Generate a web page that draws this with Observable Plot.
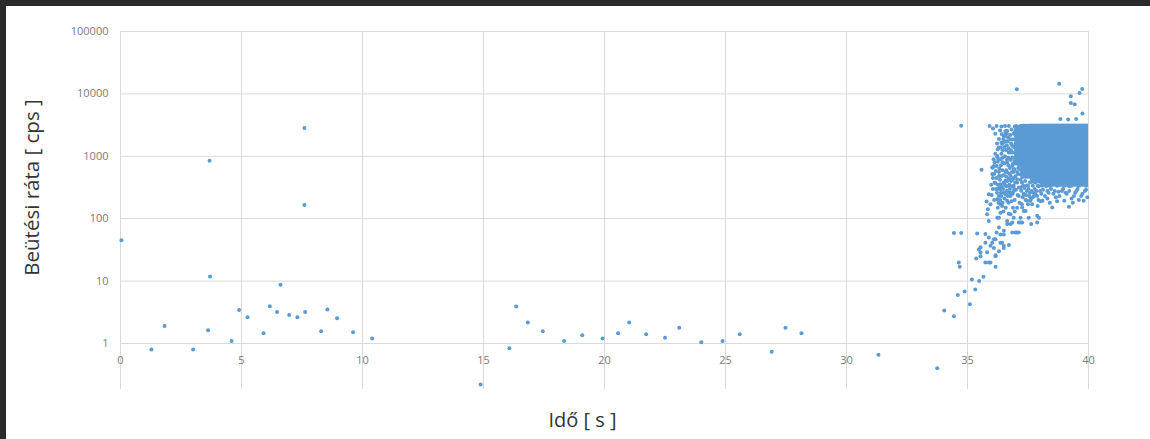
<!DOCTYPE html>
<html><head><meta charset="utf-8">
<script src="https://cdn.jsdelivr.net/npm/d3@7"></script>
<script src="https://cdn.jsdelivr.net/npm/@observablehq/plot@0.6"></script>
<style>
html,body{margin:0;padding:0;background:#fff;width:1150px;height:439px;overflow:hidden;position:relative}
#chart{position:absolute;left:0;top:0}
.frame-top{position:absolute;left:0;top:0;width:1150px;height:6px;background:#2b2b2b}
.frame-left{position:absolute;left:0;top:0;width:6px;height:439px;background:#2b2b2b}
</style></head><body>
<div id="chart"></div>
<div class="frame-top"></div><div class="frame-left"></div>
<script>
// Tick values
const xTicks = [0, 5, 10, 15, 20, 25, 30, 35, 40];
const yTicks = [1, 10, 100, 1000, 10000, 100000];
const xTitle = "Idő [ s ]";
const yTitle = "Beütési ráta [ cps ]";

// [time s, rate cps] — sparse early points
const earlyPoints = [
  [0.04,45],[1.28,0.8],[1.82,1.9],[3.0,0.8],[3.62,1.63],[3.7,11.8],[3.68,846],[4.59,1.1],
  [4.9,3.45],[5.25,2.64],[5.91,1.46],[6.17,3.96],[6.47,3.2],[6.61,8.7],[6.97,2.87],[7.31,2.64],
  [7.63,3.2],[7.6,2840],[7.6,166],[8.29,1.57],[8.55,3.5],[8.95,2.54],[9.61,1.52],[10.4,1.2],
  [14.88,0.22],[16.07,0.84],[16.35,3.9],[16.83,2.16],[17.45,1.57],[18.33,1.1],[19.08,1.36],
  [19.92,1.2],[20.56,1.46],[21.02,2.16],[21.72,1.41],[22.5,1.24],[23.09,1.78],[24.0,1.05],
  [24.88,1.1],[25.59,1.41],[26.91,0.74],[27.48,1.78],[28.14,1.46],[31.32,0.66],[33.75,0.4]
];

// rising tail before the burst
const tailPoints = [
  [34.04,3.37],[34.44,2.74],[34.44,59],[34.74,59],[34.64,19.8],[34.68,16.9],[34.6,6.0],[34.88,6.8],
  [35.1,4.27],[34.74,3100],[35.18,10.6],[35.32,7.3],[35.48,10],[35.66,11.7],[35.36,23],[35.54,28.6],
  [35.4,58],[35.74,57],[35.58,607],
  [35.74,19.8],[35.88,19.8],[35.95,19.8],[36.16,16.9],[35.54,35],[35.74,41],[35.95,37],[36.02,41],
  [36.16,26],[36.3,30],[36.09,34],[35.88,50],[36.16,47],[36.43,41],[36.5,37],[36.71,38],[36.36,56],
  [36.5,64],[37.05,60],[35.88,92],[35.81,118],[36.23,104],[36.3,72],[36.64,82],[36.85,87],[37.19,87],
  [37.88,87],[38.5,151],[39.19,155],[36.3,232],[36.36,171],[37.33,133],[37.53,104],[37.88,111],[37.19,104],
  [35.79,188],[35.84,142],[35.88,247],[36.2,60],[36.09,47],[36.36,41],[36.5,56],[36.3,104],[36.36,125],
  [36.43,160],[36.23,205],[36.33,315],[36.57,247],[36.64,92],[36.78,82],[36.85,60],[36.98,60],[37.12,60],
  [36.78,118],[36.91,104],[37.12,87],[37.26,87],[37.63,82],[37.95,104],[36.5,34],[35.81,29],[35.54,25],
  [36.16,25],[35.47,32],[36.64,193],[36.78,232],[36.91,279],[37.05,150],[37.26,151],[37.4,133],[37.47,193],
  [37.67,171],[37.81,247],[37.33,247],[37.12,315],[36.71,336]
];

// main cloud fringe (left of the dense block and beneath it)
const cloudPoints = [
  [36.09,700],[36.23,1015],[36.36,1378],[36.5,1660],[36.57,2120],[36.64,2550],[36.41,485],[36.36,357],
  [36.23,297],[36.64,792],[36.71,1146],[36.78,1880],[36.85,1470],[36.78,485],[36.57,404],[36.91,336],
  [36.91,621],[36.85,953],[37.05,2720],[37.12,1880],[37.05,1300],[37.12,899],[37.05,430],[37.19,315],
  [36.02,659],[36.25,1300],[36.36,899],[36.43,1570],[36.5,2120],[36.57,2550],[36.3,485],[36.5,379],
  [36.36,297],[36.64,548],[36.71,262],[36.78,1146],[36.85,700],[36.98,1570],[37.05,379],[37.12,1015],
  [37.19,516],[37.12,232],[36.23,970],[36.05,659],[36.3,1378],[36.4,1660],[36.57,2400],
  [36.9,2300],[37.0,1900],[37.1,2500],[37.2,2000],[37.3,1700],[37.25,1250],[37.3,900],[37.2,800],
  [37.28,620],[37.1,650],[37.0,1100],[36.95,850],[36.9,450],[37.2,420],[37.3,340],[37.05,560],
  [36.75,650],[36.7,950],[36.6,1250],[36.55,1000],[36.45,800],[36.8,1600],[36.68,2000],[36.4,1100],
  [36.6,600],[36.5,500],
  [36.35,2600],[36.42,2250],[36.48,1900],[36.55,1750],[36.62,1500],[36.7,1350],[36.76,2200],[36.82,2700],
  [36.88,1850],[36.93,1400],[36.97,2500],[37.03,2050],[37.08,1650],[37.14,1400],[37.17,2200],[37.09,2900],
  [36.95,3000],[36.87,1150],[36.8,1250],[36.66,1750],[36.45,1250],[36.52,1400],[36.62,2300],
  [36.25,820],[36.32,640],[36.38,720],[36.46,950],[36.53,770],[36.58,560],[36.63,880],[36.69,720],
  [36.74,520],[36.79,870],[36.84,560],[36.88,760],[36.94,620],[36.99,950],[37.04,840],[37.08,520],
  [37.14,720],[37.17,610],[36.98,480],[36.86,420],[36.72,440],[36.6,470],[36.44,600],[36.17,580],
  [36.12,800],[36.2,450],
  [36.15,370],[36.22,260],[36.28,180],[36.4,230],[36.47,300],[36.53,210],[36.6,330],[36.67,230],
  [36.75,300],[36.82,190],[36.87,250],[36.95,200],[37.0,290],[37.07,240],[37.15,180],[37.22,280],
  [37.28,220],[37.35,310],[37.42,240],[37.5,170],[37.58,260],[37.7,220],[37.78,300],[37.93,200],
  [38.05,250],[38.3,210],[38.45,300],[38.55,250],[38.75,270],[38.95,300],[39.1,250],[39.3,210],
  [39.55,300],[39.75,250],[39.95,220],[36.05,300],[36.0,240],[35.95,170],
  [36.05,450],[36.1,520],[36.12,380],[36.18,300],[36.26,350],[36.3,560],[36.34,420],[36.38,260],
  [36.42,330],[36.45,180],[36.5,260],[36.55,350],[36.58,150],[36.62,280],[36.65,400],[36.7,180],
  [36.73,350],[36.78,260],[36.8,400],[36.84,330],[36.88,150],[36.9,560],[36.93,300],[36.97,380],
  [36.35,200],[36.25,150],[36.48,130],[36.7,120],[36.95,130],[36.1,200],[35.98,350],[36.02,520],
  [36.08,900],[36.15,1100],[36.2,700],[36.28,900],[36.3,1900],[36.22,1600],[36.15,2300],[36.05,2800],
  [36.4,3000],[36.55,3050],
  [37.25,380],[37.32,250],[37.38,400],[37.45,340],[37.52,300],[37.58,380],[37.63,210],[37.72,260],
  [37.8,380],[37.88,230],[37.95,330],[38.02,190],[38.12,290],[38.18,370],[38.25,330],[38.35,260],
  [38.5,350],[38.65,220],[38.85,350],[39.05,260],[39.2,330],[39.45,260],[39.65,350],[39.9,290],
  [37.4,200],[37.9,160],[38.4,180],[38.7,190],[39.35,180],[39.6,200],[37.25,170],
  [35.91,3070],[36.2,3070],[36.71,3070],[37.02,3070],[37.19,3070],[37.36,3070],
  [37.5,336],[37.7,336],[37.9,336],[38.1,336],[38.4,336],[38.7,336],[39.0,336],[39.3,336],[39.6,336],[39.9,336],
  [37.45,279],[37.65,279],[37.85,279],[38.0,279],[38.3,279],[38.6,279],[38.9,279],[39.2,279],[39.5,279],[39.85,279],
  [37.55,232],[37.75,232],[38.2,232],[38.8,232],[39.4,232],[39.7,232],
  [37.6,193],[38.1,193],[39.0,193],[39.8,193]
];

// high outliers above the burst
const outlierPoints = [
  [37.04,11900],[38.79,14600],[39.27,9190],[39.27,7170],[39.43,6840],[39.63,10380],[39.74,12020],
  [39.75,4830],[38.84,3950],[39.16,3900],[39.49,3950]
];

// saturated dense part of the burst (overlapping spans): [t start, t end, rate low, rate high]
const denseBlock = [[37.2, 40, 430, 3250], [36.95, 37.3, 700, 3100], [37.6, 40, 360, 3250], [38.0, 40, 320, 3250]];

const points = [...earlyPoints, ...tailPoints, ...cloudPoints, ...outlierPoints];
const blocks = denseBlock.map(([t0, t1, r0, r1]) => ({t0, t1, r0, r1}));
const blue = "#5b9bd5";

const chart = Plot.plot({
  width: 1150,
  height: 439,
  marginLeft: 120,
  marginRight: 62,
  marginTop: 31,
  marginBottom: 50,
  style: {fontFamily: "'Open Sans', sans-serif", background: "transparent"},
  x: {domain: [0, 40], axis: null},
  y: {type: "log", domain: [0.183, 100000], axis: null},
  marks: [
    Plot.gridX(xTicks, {stroke: "#d9d9d9", strokeOpacity: 1}),
    Plot.gridY(yTicks, {stroke: "#d9d9d9", strokeOpacity: 1}),
    Plot.axisY(yTicks, {tickSize: 0, tickPadding: 12, tickFormat: d => String(d), fontSize: 11, fill: "#7a7a7a", label: null}),
    Plot.text(xTicks, {x: d => d, y: d => 1, dy: 17, fontSize: 11, fill: "#7a7a7a", text: d => String(d)}),
    Plot.rect(blocks, {x1: "t0", x2: "t1", y1: "r0", y2: "r1", fill: blue}),
    Plot.dot(points, {x: d => d[0], y: d => d[1], r: 2, fill: blue}),
    Plot.text([yTitle], {frameAnchor: "left", textAnchor: "middle", dx: -88, dy: -23, rotate: -90, fontSize: 20.5, fill: "#333"}),
    Plot.text([xTitle], {frameAnchor: "bottom", dx: -22, dy: 37, fontSize: 20, fill: "#333"})
  ]
});
document.getElementById("chart").appendChild(chart);
</script>
</body></html>
